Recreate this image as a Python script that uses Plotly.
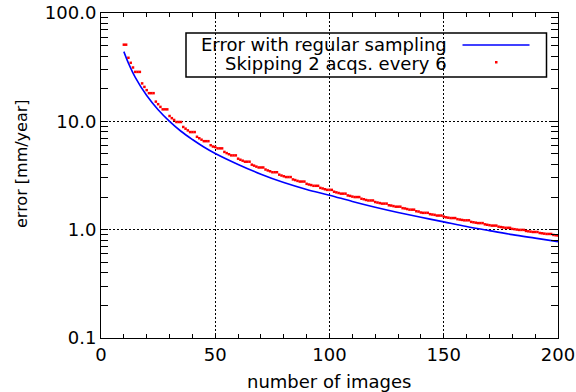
import plotly.graph_objects as go

# ---- data ----
regular_n = [10, 12, 15, 20, 25, 30, 35, 40, 45, 50, 60, 70, 80, 90, 100,
             110, 120, 130, 140, 150, 160, 170, 180, 190, 200]
regular_err = [44.0, 34.5, 25.5, 17.3, 12.8, 10.0, 8.1, 6.8, 5.8, 5.05, 4.0, 3.25,
               2.72, 2.35, 2.08, 1.82, 1.61, 1.44, 1.30, 1.18, 1.07, 0.98, 0.90,
               0.835, 0.775]

skip_n = list(range(10, 201))
skip_err = [
    51.0, 51.0, 38.6, 34.7, 31.4, 28.6, 28.6, 28.6, 22.4, 20.8,   # 10-19
    19.4, 18.2, 18.2, 18.2, 15.2, 14.4, 13.6, 12.9, 12.9, 12.9,   # 20-29
    11.2, 10.7, 10.3, 9.86, 9.86, 9.86, 8.87, 8.55, 8.25, 7.96,   # 30-39
    7.96, 7.96, 7.20, 6.98, 6.77, 6.56, 6.56, 6.56, 6.02, 5.85,   # 40-49
    5.79, 5.63, 5.63, 5.63, 5.22, 5.09, 4.97, 4.85, 4.85, 4.85,   # 50-59
    4.52, 4.42, 4.33, 4.24, 4.24, 4.24, 3.98, 3.90, 3.82, 3.75,   # 60-69
    3.75, 3.75, 3.59, 3.52, 3.46, 3.39, 3.39, 3.39, 3.22, 3.16,   # 70-79
    3.11, 3.06, 3.06, 3.06, 2.91, 2.87, 2.82, 2.78, 2.78, 2.78,   # 80-89
    2.65, 2.61, 2.58, 2.54, 2.54, 2.54, 2.43, 2.40, 2.36, 2.33,   # 90-99
    2.33, 2.33, 2.24, 2.21, 2.18, 2.15, 2.15, 2.15, 2.07, 2.05,   # 100-109
    2.02, 2.00, 2.00, 2.00, 1.93, 1.91, 1.88, 1.86, 1.86, 1.86,   # 110-119
    1.80, 1.78, 1.76, 1.74, 1.74, 1.74, 1.68, 1.67, 1.65, 1.63,   # 120-129
    1.63, 1.63, 1.58, 1.57, 1.55, 1.53, 1.53, 1.53, 1.48, 1.47,   # 130-139
    1.44, 1.43, 1.43, 1.43, 1.39, 1.38, 1.37, 1.35, 1.35, 1.35,   # 140-149
    1.32, 1.30, 1.29, 1.28, 1.28, 1.28, 1.25, 1.24, 1.23, 1.22,   # 150-159
    1.22, 1.22, 1.18, 1.17, 1.16, 1.15, 1.15, 1.15, 1.12, 1.11,   # 160-169
    1.10, 1.09, 1.09, 1.09, 1.065, 1.057, 1.049, 1.040, 1.040, 1.040,  # 170-179
    1.017, 1.010, 1.002, 0.995, 0.995, 0.995, 0.973, 0.966, 0.959, 0.952,  # 180-189
    0.952, 0.952, 0.932, 0.926, 0.919, 0.913, 0.913, 0.913, 0.894, 0.888,  # 190-199
    0.882,                                                          # 200
]

x_ticks = [0, 50, 100, 150, 200]
y_ticks = [0.1, 1, 10, 100]
y_tick_text = ["0.1", "1.0", "10.0", "100.0"]

legend_labels = ["Error with regular sampling", "Skipping 2 acqs. every 6"]
x_title = "number of images"
y_title = "error [mm/year]"

FONT = "DejaVu Sans"
fsize = 18

fig = go.Figure()
fig.add_trace(go.Scatter(x=regular_n, y=regular_err, mode="lines",
                         line=dict(color="#0000ff", width=1.6, shape="spline"),
                         showlegend=False))
fig.add_trace(go.Scatter(x=skip_n, y=skip_err, mode="markers",
                         marker=dict(color="#ff0000", size=2.5, symbol="square",
                                     line=dict(width=0)),
                         showlegend=False))

axis_common = dict(showline=True, linecolor="black", linewidth=1, mirror="ticks",
                   ticks="inside", tickcolor="black", showgrid=True, gridcolor="black",
                   gridwidth=1, griddash="2px,2px", zeroline=False, automargin=False,
                   tickfont=dict(family=FONT, size=fsize, color="black"))

fig.update_xaxes(range=[0, 200], tickvals=x_ticks, ticklen=0,
                 minor=dict(dtick=10, ticks="inside", ticklen=4, tickcolor="black",
                            showgrid=False),
                 **axis_common)
fig.update_yaxes(type="log", range=[-1, 2], tickvals=y_ticks, ticktext=y_tick_text,
                 ticklen=0,
                 minor=dict(dtick="D1", ticks="inside", ticklen=7, tickcolor="black",
                            showgrid=False),
                 **axis_common)

# legend drawn by hand (transparent box like the original)
W, H = 457.0, 325.0
def px(xp):
    return (xp - 101) / W
def py(yp):
    return (338 - yp) / H

fig.add_shape(type="rect", xref="paper", yref="paper",
              x0=px(186), x1=px(546.5), y0=py(77), y1=py(33),
              line=dict(color="black", width=1.5), fillcolor="rgba(0,0,0,0)")
fig.add_annotation(xref="paper", yref="paper", x=px(449), y=py(44.5), text=legend_labels[0],
                   showarrow=False, xanchor="right", yanchor="middle",
                   font=dict(family=FONT, size=fsize, color="black"))
fig.add_annotation(xref="paper", yref="paper", x=px(449), y=py(63.5), text=legend_labels[1],
                   showarrow=False, xanchor="right", yanchor="middle",
                   font=dict(family=FONT, size=fsize, color="black"))
fig.add_shape(type="line", xref="paper", yref="paper",
              x0=px(462.5), x1=px(529.5), y0=py(45), y1=py(45),
              line=dict(color="#0000ff", width=1.5))
fig.add_shape(type="rect", xref="paper", yref="paper",
              x0=px(495), x1=px(497.5), y0=py(63.5), y1=py(61),
              line=dict(width=0), fillcolor="#ff0000")

fig.add_annotation(xref="paper", yref="paper", x=px(329), y=py(381), text=x_title,
                   showarrow=False, xanchor="center", yanchor="middle",
                   font=dict(family=FONT, size=fsize, color="black"))
fig.add_annotation(xref="paper", yref="paper", x=px(21), y=py(164), text=y_title,
                   showarrow=False, xanchor="center", yanchor="middle", textangle=-90,
                   font=dict(family=FONT, size=16, color="black"))

fig.update_layout(width=576, height=392,
                  margin=dict(l=101, r=18, t=13, b=54, pad=0),
                  paper_bgcolor="white", plot_bgcolor="white")

fig.write_html("out.html")
